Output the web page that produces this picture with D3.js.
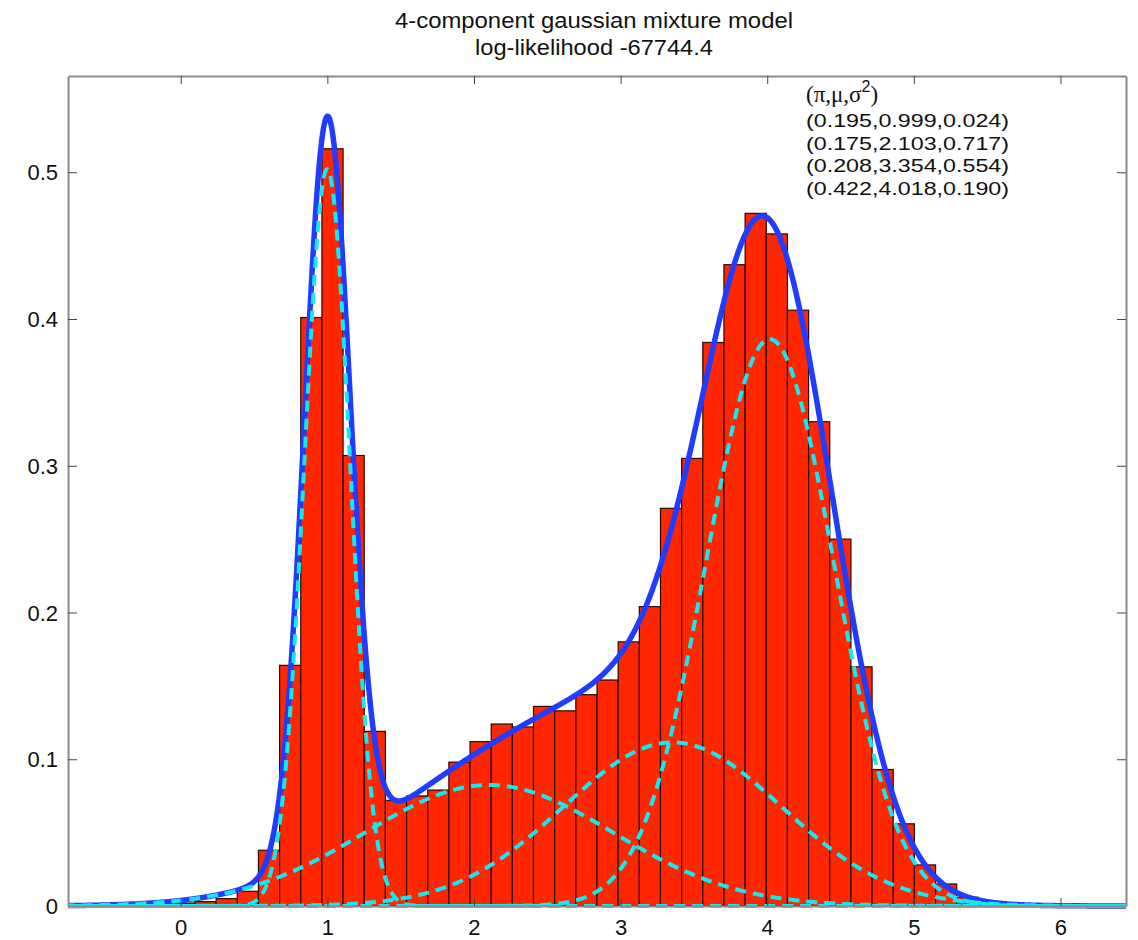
<!DOCTYPE html>
<html>
<head>
<meta charset="utf-8">
<script src="https://cdn.jsdelivr.net/npm/d3@7"></script>
<style>
  html, body { margin: 0; padding: 0; background: #fff; }
  svg { display: block; }
</style>
</head>
<body>
<svg id="chart" width="1138" height="940"></svg>
<script>
// ---------------- data ----------------
const titleLines = ["4-component gaussian mixture model", "log-likelihood -67744.4"];
const xDomain = [-0.769, 6.447];
const yDomain = [0, 0.5656];
const xTicks = [0, 1, 2, 3, 4, 5, 6];
const xTickLabels = ["0", "1", "2", "3", "4", "5", "6"];
const yTicks = [0, 0.1, 0.2, 0.3, 0.4, 0.5];
const yTickLabels = ["0", "0.1", "0.2", "0.3", "0.4", "0.5"];

// histogram: 50 equal bins over the data range, normalised density per bin
const binCount = 50;
const binDensity = [
  0.0003, 0.0005, 0.0008, 0.001, 0.0015, 0.002, 0.003, 0.005, 0.010, 0.038,
  0.164, 0.401, 0.516, 0.307, 0.119, 0.072, 0.075, 0.079, 0.098, 0.112,
  0.124, 0.122, 0.136, 0.133, 0.144, 0.154, 0.180, 0.204, 0.271, 0.305,
  0.384, 0.437, 0.472, 0.458, 0.406, 0.330, 0.250, 0.163, 0.093, 0.056,
  0.028, 0.015, 0.006, 0.0025, 0.001, 0.0005, 0.0003, 0.0002, 0.0001, 0.0001
];

// fitted mixture components (pi, mu, sigma^2) as printed in the chart
const compPi     = [0.195, 0.175, 0.208, 0.422];
const compMu     = [0.999, 2.103, 3.354, 4.018];
const compSigma2 = [0.024, 0.717, 0.554, 0.190];
const legendLines = ["(0.195,0.999,0.024)", "(0.175,2.103,0.717)", "(0.208,3.354,0.554)", "(0.422,4.018,0.190)"];

// ---------------- layout ----------------
const svg = d3.select("#chart");
const L = 68, R = 1126, T = 76, B = 906;
const x = d3.scaleLinear().domain(xDomain).range([L, R]);
const y = d3.scaleLinear().domain(yDomain).range([B, T]);
const FONT = "'Liberation Sans', Arial, Helvetica, sans-serif";

svg.append("defs").append("clipPath").attr("id", "plotclip")
  .append("rect").attr("x", L).attr("y", T).attr("width", R - L).attr("height", B - T + 3);

const plot = svg.append("g").attr("clip-path", "url(#plotclip)");

// bars
const binW = (xDomain[1] - xDomain[0]) / binCount;
const bins = binDensity.map((d, i) => ({ x0: xDomain[0] + i * binW, x1: xDomain[0] + (i + 1) * binW, v: d }));
plot.append("g").selectAll("rect").data(bins).join("rect")
  .attr("x", d => x(d.x0))
  .attr("y", d => y(d.v))
  .attr("width", d => x(d.x1) - x(d.x0))
  .attr("height", d => y(0) - y(d.v))
  .attr("fill", "#ff2600")
  .attr("stroke", "#2e0600")
  .attr("stroke-width", 1.2);

// component densities from the printed parameters
function npdf(t, p, m, s2) {
  return p / Math.sqrt(2 * Math.PI * s2) * Math.exp(-(t - m) * (t - m) / (2 * s2));
}
const grid = d3.range(xDomain[0], xDomain[1] + 0.0001, 0.004);
const comps = compPi.map((p, j) => grid.map(t => [t, npdf(t, p, compMu[j], compSigma2[j])]));
const mixture = grid.map((t, i) => [t, d3.sum(comps, c => c[i][1])]);

const line = d3.line().x(d => x(d[0])).y(d => y(d[1]));

plot.append("path").datum(mixture)
  .attr("d", line)
  .attr("fill", "none")
  .attr("stroke", "#1f3cff")
  .attr("stroke-width", 5.5)
  .attr("stroke-linejoin", "round")
  .attr("stroke-linecap", "round");

plot.append("g").selectAll("path").data(comps).join("path")
  .attr("d", line)
  .attr("fill", "none")
  .attr("stroke", "#14e8f0")
  .attr("stroke-width", 4)
  .attr("stroke-dasharray", "11,7")
  .attr("stroke-dashoffset", (d, i) => i * 4.5);

// ---------------- axes ----------------
function styleAxis(g, showLabels) {
  g.select(".domain").attr("stroke", "#8a8a8a").attr("stroke-width", 2);
  g.selectAll(".tick line").attr("stroke", "#444").attr("stroke-width", 1);
  g.selectAll(".tick text")
    .attr("font-family", FONT).attr("font-size", 22).attr("fill", "#111")
    .style("display", showLabels ? null : "none");
}

const axL = svg.append("g").attr("transform", `translate(${L},0)`)
  .call(d3.axisLeft(y).tickValues(yTicks).tickFormat((d, i) => yTickLabels[i]).tickSizeInner(-9).tickSizeOuter(0).tickPadding(10));
styleAxis(axL, true);
axL.selectAll(".tick text").attr("dy", "0.35em");

const axR = svg.append("g").attr("transform", `translate(${R},0)`)
  .call(d3.axisRight(y).tickValues(yTicks).tickSizeInner(-9).tickSizeOuter(0));
styleAxis(axR, false);

const axB = svg.append("g").attr("transform", `translate(0,${B})`)
  .call(d3.axisBottom(x).tickValues(xTicks).tickFormat((d, i) => xTickLabels[i]).tickSizeInner(-8).tickSizeOuter(0).tickPadding(13));
styleAxis(axB, true);

const axT = svg.append("g").attr("transform", `translate(0,${T})`)
  .call(d3.axisTop(x).tickValues(xTicks).tickSizeInner(-8).tickSizeOuter(0));
styleAxis(axT, false);

// ---------------- title ----------------
svg.append("text").attr("x", (L + R) / 2 - 3).attr("y", 28)
  .attr("text-anchor", "middle").attr("font-family", FONT).attr("font-size", 22).attr("fill", "#111")
  .attr("textLength", 398).attr("lengthAdjust", "spacingAndGlyphs")
  .text(titleLines[0]);
svg.append("text").attr("x", (L + R) / 2 - 3).attr("y", 55)
  .attr("text-anchor", "middle").attr("font-family", FONT).attr("font-size", 22).attr("fill", "#111")
  .attr("textLength", 238).attr("lengthAdjust", "spacingAndGlyphs")
  .text(titleLines[1]);

// ---------------- parameter legend ----------------
const lg = svg.append("g");
const head = lg.append("text").attr("x", 806).attr("y", 102)
  .attr("font-family", "'Liberation Serif', 'DejaVu Serif', serif").attr("font-size", 23).attr("fill", "#111");
head.append("tspan").text("(π,μ,σ");
head.append("tspan").attr("dy", -10).attr("font-size", 16).attr("font-family", FONT).text("2");
head.append("tspan").attr("dy", 10).text(")");

lg.selectAll("text.par").data(legendLines).join("text")
  .attr("class", "par")
  .attr("x", 806)
  .attr("y", (d, i) => 127 + i * 22.7)
  .attr("font-family", FONT).attr("font-size", 19).attr("fill", "#111")
  .attr("textLength", 203).attr("lengthAdjust", "spacingAndGlyphs")
  .text(d => d);
</script>
</body>
</html>
